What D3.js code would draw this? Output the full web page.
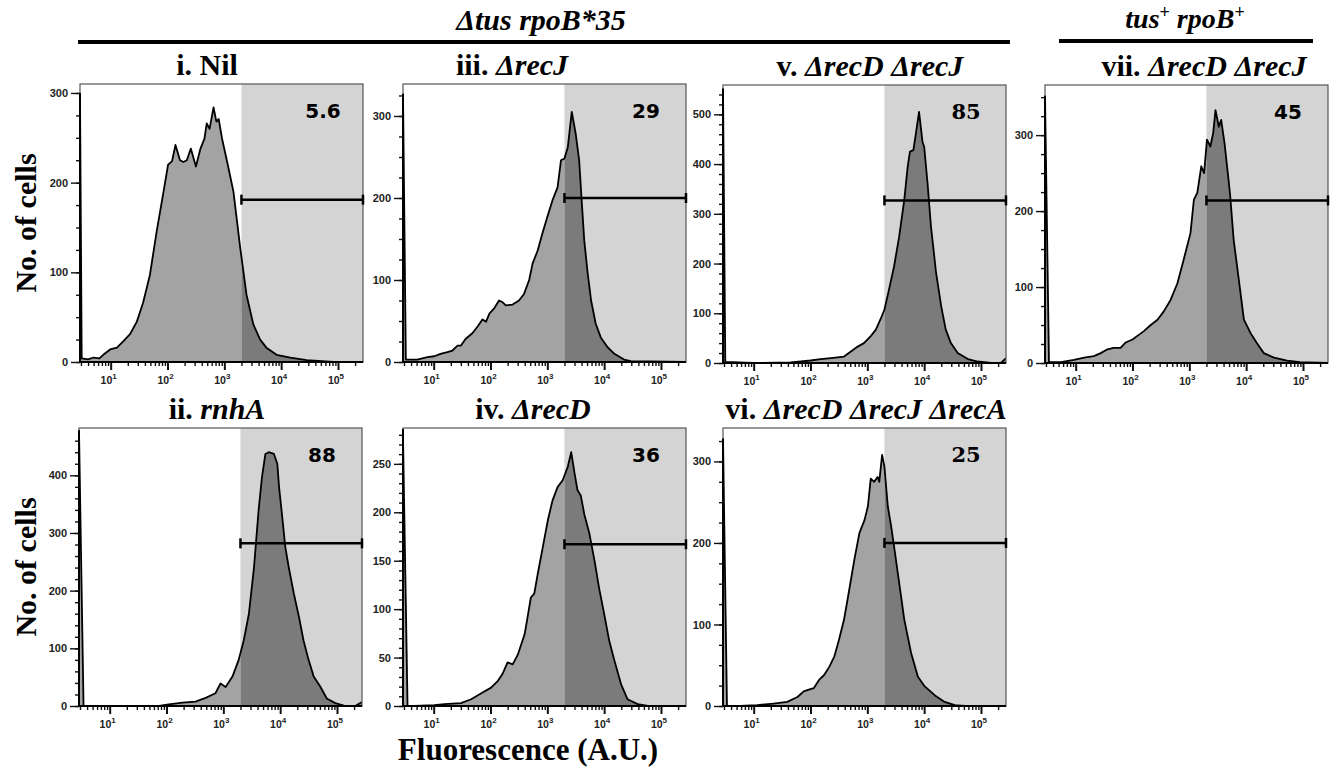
<!DOCTYPE html>
<html>
<head>
<meta charset="utf-8">
<script src="https://cdn.jsdelivr.net/npm/d3@7"></script>
<style>
  body { margin: 0; background: #fff; }
</style>
</head>
<body>
<div id="chart"></div>
<script>
// histograms: [log10 fluorescence, no. of cells]
const histNil = [[0.46,300],[0.49,4],[0.6,3],[0.7,5],[0.8,4],[0.87,8],[0.99,14],[1.11,16],[1.22,23],[1.34,31],[1.46,45],[1.57,66],[1.69,97],[1.81,146],[1.93,190],[2.01,220],[2.08,224],[2.14,242],[2.22,225],[2.28,223],[2.34,225],[2.41,238],[2.50,218],[2.58,238],[2.65,249],[2.69,266],[2.74,260],[2.81,284],[2.86,268],[2.90,271],[2.96,249],[3.05,223],[3.16,190],[3.28,127],[3.39,75],[3.51,42],[3.63,25],[3.74,16],[3.92,8],[4.16,5],[4.45,2],[4.92,0],[5.44,0]];
const histRecJ = [[0.46,327],[0.51,3],[0.71,3],[0.89,6],[1.01,7],[1.12,10],[1.24,12],[1.33,14],[1.42,20],[1.48,20],[1.56,28],[1.68,35],[1.77,43],[1.86,52],[1.92,49],[1.98,59],[2.06,65],[2.15,75],[2.21,73],[2.27,69],[2.39,70],[2.50,75],[2.59,83],[2.68,100],[2.74,120],[2.83,136],[2.91,156],[3.00,177],[3.09,197],[3.18,213],[3.24,246],[3.30,248],[3.36,262],[3.43,305],[3.50,278],[3.56,246],[3.60,201],[3.65,148],[3.71,108],[3.77,75],[3.85,47],[3.94,30],[4.06,18],[4.18,10],[4.35,3],[4.47,1],[5.44,0]];
const histRecDRecJ = [[0.46,552],[0.50,2],[1.0,0],[1.65,1],[1.83,3],[2.00,5],[2.18,8],[2.36,10],[2.59,13],[2.71,23],[2.83,33],[2.94,40],[3.06,54],[3.15,67],[3.24,90],[3.30,107],[3.38,147],[3.47,194],[3.56,254],[3.65,328],[3.71,395],[3.75,425],[3.81,428],[3.85,458],[3.91,505],[3.97,445],[4.00,435],[4.06,361],[4.12,274],[4.21,181],[4.30,114],[4.38,67],[4.47,40],[4.59,20],[4.77,8],[4.94,3],[5.18,0],[5.35,0],[5.44,10]];
const histWtRecDRecJ = [[0.46,352],[0.53,1],[0.74,1],[0.97,4],[1.15,7],[1.32,9],[1.44,13],[1.56,18],[1.67,20],[1.79,20],[1.88,27],[2.00,31],[2.11,37],[2.20,42],[2.32,50],[2.44,57],[2.55,68],[2.67,83],[2.79,105],[2.90,136],[3.02,171],[3.08,215],[3.14,224],[3.21,259],[3.26,250],[3.31,294],[3.37,285],[3.42,303],[3.46,333],[3.52,311],[3.56,320],[3.62,289],[3.69,241],[3.72,219],[3.78,162],[3.87,110],[3.96,57],[4.08,39],[4.19,26],[4.31,13],[4.49,7],[4.72,3],[4.95,1],[5.44,0]];
const histRnhA = [[0.46,478],[0.54,0],[1.87,0],[2.04,3],[2.28,6],[2.51,7.5],[2.69,14],[2.86,22],[2.95,39],[3.04,33],[3.16,51],[3.27,80],[3.36,114],[3.45,160],[3.54,241],[3.62,339],[3.68,397],[3.74,437],[3.80,440],[3.89,437],[3.95,420],[3.98,380],[4.03,334],[4.09,276],[4.15,241],[4.24,195],[4.33,155],[4.41,114],[4.50,80],[4.59,51],[4.71,33],[4.82,13],[4.97,5],[5.15,0],[5.32,0],[5.44,7]];
const histRecD = [[0.46,278],[0.54,0],[0.66,0],[1.01,1],[1.19,2],[1.48,3],[1.66,7],[1.83,13],[2.01,19],[2.13,26],[2.21,33],[2.30,45],[2.39,43],[2.48,53],[2.60,74],[2.65,91],[2.71,112],[2.77,116],[2.83,136],[2.92,164],[3.01,192],[3.09,212],[3.18,226],[3.27,233],[3.36,247],[3.42,262],[3.48,240],[3.53,223],[3.59,217],[3.65,198],[3.74,178],[3.83,150],[3.91,122],[4.00,95],[4.09,67],[4.18,47],[4.30,22],[4.41,7],[4.59,2],[4.77,0],[5.44,0]];
const histRecDRecJRecA = [[0.46,328],[0.53,0],[0.76,0],[1.06,1],[1.35,3],[1.59,5],[1.77,11],[1.88,18],[1.97,20],[2.06,22],[2.15,32],[2.24,38],[2.33,48],[2.42,61],[2.50,81],[2.59,106],[2.68,142],[2.77,179],[2.86,212],[2.95,228],[3.01,245],[3.06,279],[3.12,275],[3.18,281],[3.21,275],[3.26,308],[3.30,294],[3.36,245],[3.42,220],[3.48,191],[3.57,146],[3.65,106],[3.77,65],[3.89,36],[4.01,24],[4.19,13],[4.36,5],[4.54,1],[4.72,0],[5.44,0]];

// panel order: i, iii, v, vii (top row), ii, iv, vi (bottom row)
const histograms = [histNil, histRecJ, histRecDRecJ, histWtRecDRecJ, histRnhA, histRecD, histRecDRecJRecA];
const titleRoman = ["i. Nil", "iii. ", "v. ", "vii. ", "ii. ", "iv. ", "vi. "];
const titleItalic = ["", "\u0394recJ", "\u0394recD \u0394recJ", "\u0394recD \u0394recJ", "rnhA", "\u0394recD", "\u0394recD \u0394recJ \u0394recA"];
const gatePercents = ["5.6", "29", "85", "45", "88", "36", "25"];
const gateLevels = [181, 200, 327, 214, 282, 167, 200];   // height of the gate bar, in cells
const yMaxes = [310, 339, 559, 366, 482, 287, 341];
const yAxisTops = [300, 327, 552, 352, 478, 286, 328];
const yLabelSteps = [100, 100, 100, 100, 100, 50, 100];
const yMinorSteps = [25, 25, 20, 25, 20, 10, 25];
const gateStart = 2000;
const xMajorTicks = [10, 100, 1000, 10000, 100000];

// layout
const W = 1331, H = 768;
const panelLeft = [80, 403, 723, 1045, 79, 403, 723];
const panelTop = [84, 84, 85, 85, 428, 428, 428];
const titleX = [207, 512, 870, 1204, 217, 533, 866];
const plotW = 283, plotH = 278;
const xDomain = [Math.pow(10, 0.46), Math.pow(10, 5.44)];
const serifBold = "'Liberation Serif', 'Times New Roman', serif";
const tickFont = "'Liberation Sans Narrow', 'Arial Narrow', 'Liberation Sans', sans-serif";

let svg = d3.select("#chart")
    .append("svg")
    .attr("width", W)
    .attr("height", H)
    .style("background", "#fff");

let defs = svg.append("defs");

function drawPanel(k) {
    let hist = histograms[k];
    let g = svg.append("g").attr("transform", "translate(" + panelLeft[k] + "," + panelTop[k] + ")");
    let x = d3.scaleLog().domain(xDomain).range([0, plotW]);
    let y = d3.scaleLinear().domain([0, yMaxes[k]]).range([plotH, 0]);
    let gx = x(gateStart);

    g.append("rect").attr("width", plotW).attr("height", plotH).attr("fill", "#fff");
    g.append("rect").attr("x", gx).attr("width", plotW - gx).attr("height", plotH).attr("fill", "#d4d4d4");

    defs.append("clipPath").attr("id", "clipL" + k)
        .append("rect").attr("x", 0).attr("y", 0).attr("width", gx).attr("height", plotH);
    defs.append("clipPath").attr("id", "clipR" + k)
        .append("rect").attr("x", gx).attr("y", 0).attr("width", plotW - gx).attr("height", plotH);
    defs.append("clipPath").attr("id", "clipA" + k)
        .append("rect").attr("x", 0).attr("y", 0).attr("width", plotW).attr("height", plotH);

    let area = d3.area()
        .x(d => x(Math.pow(10, d[0])))
        .y0(plotH)
        .y1(d => y(d[1]));
    let line = d3.line()
        .x(d => x(Math.pow(10, d[0])))
        .y(d => y(d[1]));

    g.append("path").datum(hist).attr("d", area).attr("fill", "#a3a3a3").attr("clip-path", "url(#clipL" + k + ")");
    g.append("path").datum(hist).attr("d", area).attr("fill", "#7b7b7b").attr("clip-path", "url(#clipR" + k + ")");
    g.append("path").datum(hist).attr("d", line)
        .attr("fill", "none")
        .attr("stroke", "#000")
        .attr("stroke-width", 1.8)
        .attr("stroke-linejoin", "round")
        .attr("clip-path", "url(#clipA" + k + ")");

    // frame
    g.append("rect").attr("width", plotW).attr("height", plotH)
        .attr("fill", "none").attr("stroke", "#555").attr("stroke-width", 1.2);

    // gate bar
    let gy = y(gateLevels[k]);
    g.append("line").attr("x1", gx).attr("x2", plotW).attr("y1", gy).attr("y2", gy)
        .attr("stroke", "#000").attr("stroke-width", 2.5);
    [gx, plotW].forEach(function (cx) {
        g.append("line").attr("x1", cx).attr("x2", cx).attr("y1", gy - 5).attr("y2", gy + 5)
            .attr("stroke", "#000").attr("stroke-width", 2.5);
    });

    // percentage in gate
    let serifNum = (k === 2 || k === 6);
    g.append("text")
        .attr("x", plotW - 40).attr("y", 34)
        .attr("text-anchor", "middle")
        .style("font-family", serifNum ? "'DejaVu Serif', serif" : "'DejaVu Sans', sans-serif")
        .style("font-weight", "bold")
        .style("font-size", serifNum ? "21px" : "20px")
        .text(gatePercents[k]);

    // y axis
    let top = yAxisTops[k];
    let minorAxis = d3.axisLeft(y).tickValues(d3.range(0, top + 0.1, yMinorSteps[k])).tickSize(4).tickFormat("");
    let majorAxis = d3.axisLeft(y).tickValues(d3.range(0, top + 0.1, yLabelSteps[k])).tickSize(9).tickPadding(3);
    let ym = g.append("g").call(minorAxis);
    let yM = g.append("g").call(majorAxis);
    [ym, yM].forEach(a => {
        a.select(".domain").remove();
        a.selectAll("line").attr("stroke", "#111").attr("stroke-width", 1.4);
    });
    yM.selectAll("text")
        .style("font-family", tickFont).style("font-size", "11px").style("font-weight", "bold").attr("fill", "#222");
    g.append("line").attr("x1", 0).attr("x2", 0).attr("y1", plotH).attr("y2", y(top))
        .attr("stroke", "#000").attr("stroke-width", 2);

    // x axis (log)
    let minorTicks = [];
    for (let n = 0; n <= 5; n++) {
        for (let m = 2; m <= 9; m++) {
            let v = m * Math.pow(10, n);
            if (v >= xDomain[0] && v <= xDomain[1]) minorTicks.push(v);
        }
    }
    let xMinorAxis = d3.axisBottom(x).tickValues(minorTicks).tickSize(4).tickFormat("");
    let xMajorAxis = d3.axisBottom(x).tickValues(xMajorTicks).tickSize(8).tickFormat("");
    let xm = g.append("g").attr("transform", "translate(0," + plotH + ")").call(xMinorAxis);
    let xM = g.append("g").attr("transform", "translate(0," + plotH + ")").call(xMajorAxis);
    [xm, xM].forEach(a => {
        a.select(".domain").remove();
        a.selectAll("line").attr("stroke", "#111").attr("stroke-width", 1.4);
    });
    xM.selectAll("line").attr("stroke-width", 2);
    g.append("line").attr("x1", 0).attr("x2", plotW).attr("y1", plotH).attr("y2", plotH)
        .attr("stroke", "#000").attr("stroke-width", 2);

    let labels = g.append("g")
        .style("font-family", tickFont).style("font-weight", "bold").attr("fill", "#222");
    xMajorTicks.forEach(function (v) {
        let t = labels.append("text")
            .attr("x", x(v) - 2).attr("y", plotH + 22)
            .attr("text-anchor", "middle")
            .style("font-size", "10.5px");
        t.append("tspan").text("10");
        t.append("tspan").attr("dy", -5).style("font-size", "8px").text(Math.round(Math.log10(v)));
    });

    // panel title
    let t = svg.append("text")
        .attr("x", titleX[k])
        .attr("y", panelTop[k] - 9)
        .attr("text-anchor", "middle")
        .style("font-family", serifBold)
        .style("font-weight", "bold")
        .style("font-size", "30px");
    t.append("tspan").text(titleRoman[k]);
    if (titleItalic[k]) t.append("tspan").style("font-style", "italic").text(titleItalic[k]);
}

d3.range(histograms.length).forEach(drawPanel);

// genotype headers
svg.append("text")
    .attr("x", 541).attr("y", 30)
    .attr("text-anchor", "middle")
    .style("font-family", serifBold).style("font-weight", "bold").style("font-style", "italic")
    .style("font-size", "30px")
    .text("\u0394tus rpoB*35");
svg.append("line").attr("x1", 78).attr("x2", 1010).attr("y1", 42).attr("y2", 42)
    .attr("stroke", "#000").attr("stroke-width", 4);

let wt = svg.append("text")
    .attr("x", 1185).attr("y", 28)
    .attr("text-anchor", "middle")
    .style("font-family", serifBold).style("font-weight", "bold").style("font-style", "italic")
    .style("font-size", "28px");
wt.append("tspan").text("tus");
wt.append("tspan").attr("dy", -10).style("font-size", "18px").style("font-style", "normal").text("+");
wt.append("tspan").attr("dy", 10).text(" rpoB");
wt.append("tspan").attr("dy", -10).style("font-size", "18px").style("font-style", "normal").text("+");
svg.append("line").attr("x1", 1059).attr("x2", 1313).attr("y1", 41).attr("y2", 41)
    .attr("stroke", "#000").attr("stroke-width", 4);

// axis titles
[223, 567].forEach(function (cy) {
    svg.append("text")
        .attr("transform", "translate(36," + cy + ") rotate(-90)")
        .attr("text-anchor", "middle")
        .style("font-family", serifBold).style("font-weight", "bold")
        .style("font-size", "30px")
        .text("No. of cells");
});
svg.append("text")
    .attr("x", 528).attr("y", 760)
    .attr("text-anchor", "middle")
    .style("font-family", serifBold).style("font-weight", "bold")
    .style("font-size", "31px")
    .text("Fluorescence (A.U.)");
</script>
</body>
</html>
